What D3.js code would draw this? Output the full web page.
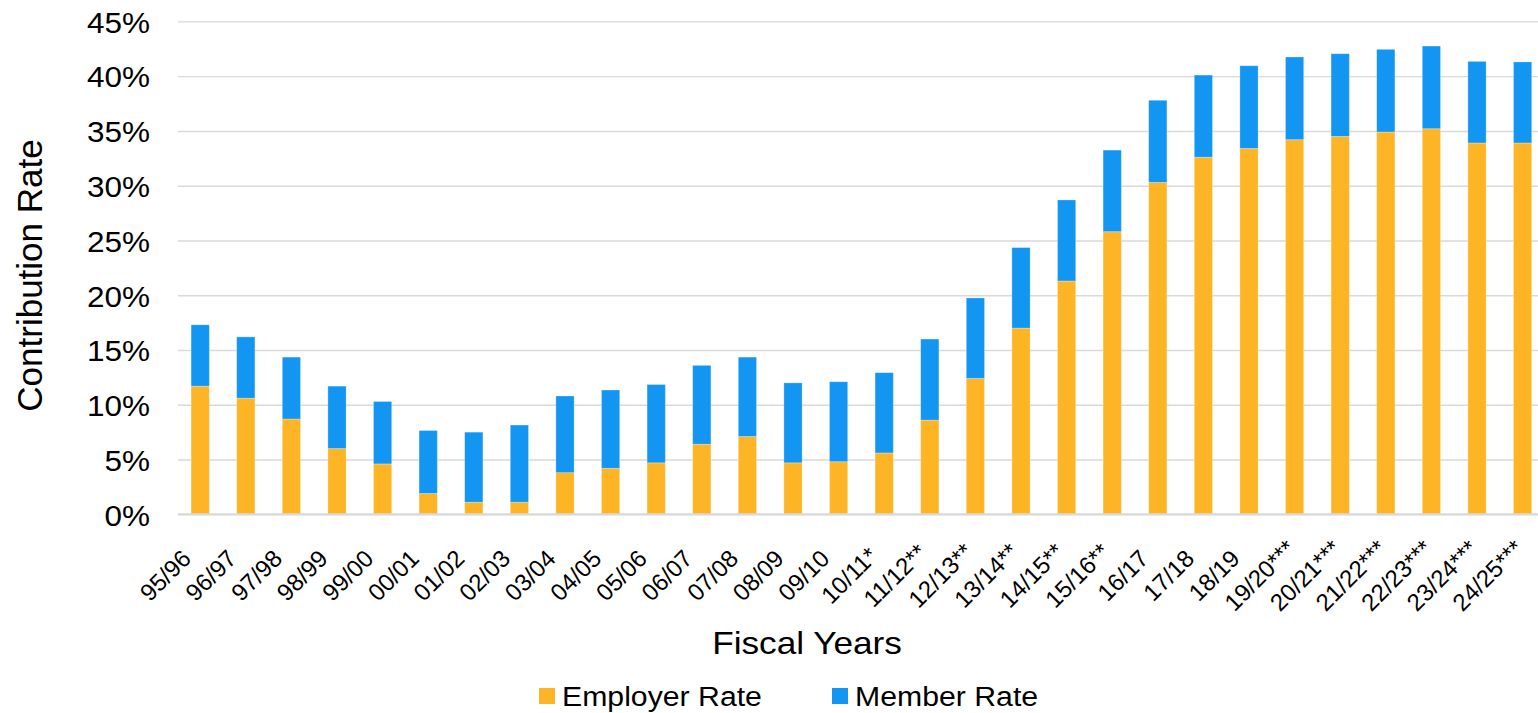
<!DOCTYPE html>
<html>
<head>
<meta charset="utf-8">
<script src="https://cdn.jsdelivr.net/npm/d3@7"></script>
<style>
  html, body { margin: 0; padding: 0; background: #fff; }
  svg { display: block; }
  text { font-family: "Liberation Sans", Arial, Helvetica, sans-serif; fill: #000; }
</style>
</head>
<body>
<svg id="chart" width="1538" height="713"></svg>
<script>
// ---- data ----
const categories = ["95/96","96/97","97/98","98/99","99/00","00/01","01/02","02/03","03/04","04/05",
  "05/06","06/07","07/08","08/09","09/10","10/11*","11/12**","12/13**","13/14**","14/15**",
  "15/16**","16/17","17/18","18/19","19/20***","20/21***","21/22***","22/23***","23/24***","24/25***"];
const employerRate = [11.7, 10.6, 8.7, 6.0, 4.6, 1.9, 1.1, 1.1, 3.8, 4.2,
  4.7, 6.4, 7.1, 4.7, 4.8, 5.6, 8.6, 12.4, 17.0, 21.3,
  25.8, 30.3, 32.6, 33.4, 34.2, 34.5, 34.9, 35.2, 33.9, 33.9];
const memberRate = [5.6, 5.6, 5.65, 5.7, 5.7, 5.75, 6.4, 7.05, 7.0, 7.15,
  7.15, 7.2, 7.25, 7.3, 7.3, 7.33, 7.4, 7.35, 7.35, 7.4,
  7.45, 7.5, 7.5, 7.55, 7.55, 7.55, 7.55, 7.55, 7.45, 7.4];
const yTicks = [0, 5, 10, 15, 20, 25, 30, 35, 40, 45];
const seriesNames = ["Employer Rate", "Member Rate"];
const colors = ["#FDB525", "#1396F1"];

// ---- layout ----
const svg = d3.select("#chart");
const W = 1538;
const plotLeft = 177.4, plotRight = 1545.4, plotTop = 21.4, plotBottom = 514.3;

const x = d3.scaleBand().domain(categories).range([plotLeft, plotRight])
  .paddingInner(0.6).paddingOuter(0.3);
const y = d3.scaleLinear().domain([0, 45]).range([plotBottom, plotTop]);

// gridlines
const grid = d3.axisLeft(y).tickValues(yTicks).tickSize(-(W - 178)).tickFormat("");
svg.append("g").attr("transform", "translate(178,0)").call(grid)
  .call(g => g.select(".domain").remove())
  .call(g => g.selectAll("line").attr("stroke", "#d9d9d9").attr("stroke-width", 1.4));

// stacked bars
const rows = categories.map((c, i) => ({ cat: c, employer: employerRate[i], member: memberRate[i] }));
const stack = d3.stack().keys(["employer", "member"])(rows);
svg.append("g").selectAll("g").data(stack).join("g")
  .attr("fill", (d, i) => colors[i])
  .selectAll("rect").data(d => d).join("rect")
  .attr("x", d => x(d.data.cat))
  .attr("width", x.bandwidth())
  .attr("y", d => y(d[1]))
  .attr("height", d => y(d[0]) - y(d[1]))
  .attr("stroke", "rgba(255,255,255,0.35)")
  .attr("stroke-width", 0.8);

// baseline
svg.append("line").attr("x1", 178).attr("x2", W).attr("y1", y(0)).attr("y2", y(0))
  .attr("stroke", "#d9d9d9").attr("stroke-width", 2);

// y axis labels
const yAxis = d3.axisLeft(y).tickValues(yTicks).tickSize(0).tickPadding(28).tickFormat(d => d + "%");
svg.append("g").attr("transform", "translate(178,0)").call(yAxis)
  .call(g => g.select(".domain").remove())
  .call(g => g.selectAll("text")
    .attr("x", 0).attr("dy", "0.36em")
    .attr("transform", "translate(-28,0) scale(1.05,1)")
    .style("font-size", "30px").style("font-family", "'Liberation Sans', Arial, sans-serif"));

// x axis labels
const xAxis = d3.axisBottom(x).tickSize(0);
svg.append("g").attr("transform", `translate(0,${plotBottom})`).call(xAxis)
  .call(g => g.select(".domain").remove())
  .call(g => g.selectAll("text")
    .attr("x", 0).attr("y", 0).attr("dy", 0)
    .attr("text-anchor", "middle")
    .attr("transform", "translate(-29,67) rotate(-45)")
    .style("font-size", "24px").style("font-family", "'Liberation Sans', Arial, sans-serif"));

// axis titles
svg.append("text").attr("transform", "translate(42,275.5) rotate(-90)")
  .attr("text-anchor", "middle").style("font-size", "35px").text("Contribution Rate");
svg.append("text").attr("transform", "translate(807,654) scale(1.1,1)")
  .attr("text-anchor", "middle").style("font-size", "32px").text("Fiscal Years");

// legend
const legendX = [539, 832];
const leg = svg.append("g");
seriesNames.forEach((name, i) => {
  leg.append("rect").attr("x", legendX[i]).attr("y", 688).attr("width", 16).attr("height", 16)
    .attr("fill", colors[i]);
  leg.append("text").attr("transform", `translate(${legendX[i] + 23},706) scale(1.12,1)`)
    .style("font-size", "27px").text(name);
});
</script>
</body>
</html>
